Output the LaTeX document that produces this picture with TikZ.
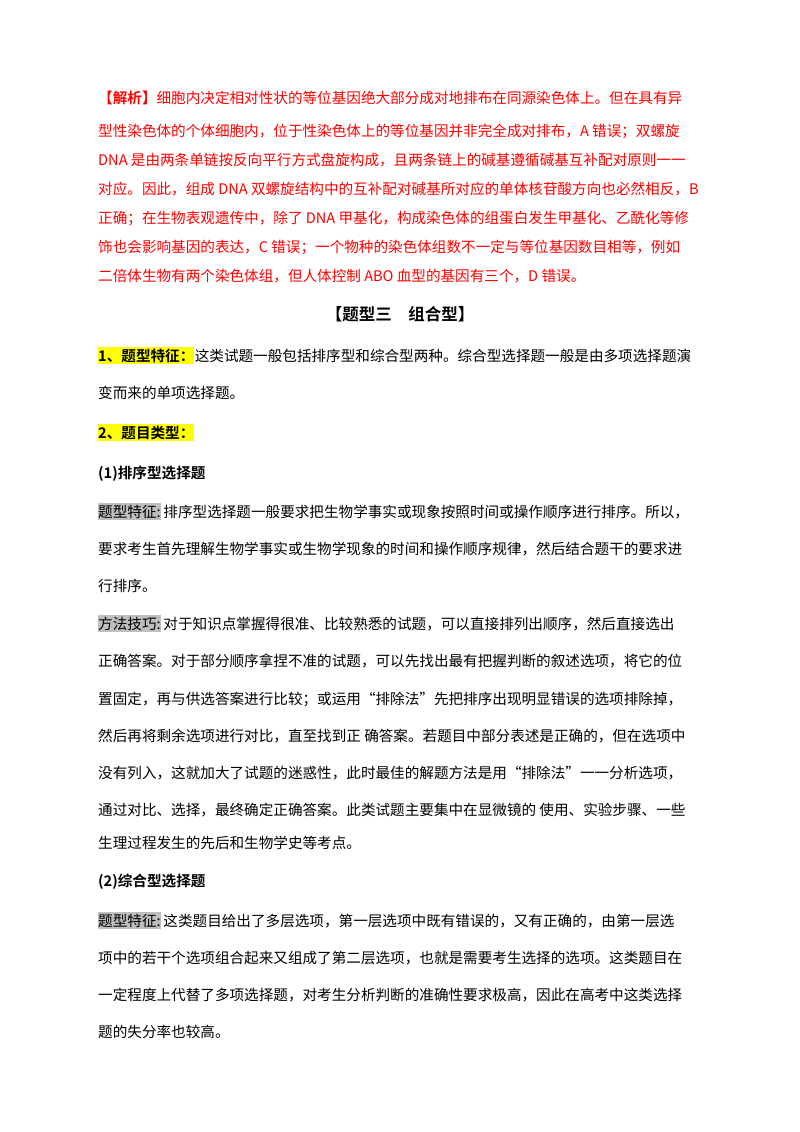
\documentclass[tikz,border=0pt]{standalone}
\usepackage{fontspec}
\setmainfont{Liberation Serif}
\newfontfamily\cjk{Noto Sans CJK SC}
\newfontfamily\cjkb{Noto Sans CJK SC Bold}
\definecolor{hlyellow}{RGB}{255,255,0}
\definecolor{hlgray}{RGB}{190,190,190}
\tikzset{
  txt/.style={anchor=base west,inner sep=0pt,font=\cjk\fontsize{14.6}{14.6}\selectfont},
  red/.style={txt,text=red},
  bold/.style={txt,font=\cjkb\fontsize{14.6}{14.6}\selectfont},
  hl/.style={fill=hlyellow,inner ysep=2pt},
  gy/.style={fill=hlgray,inner ysep=2pt}
}
\begin{document}
\begin{tikzpicture}[x=1pt,y=-1pt]
\useasboundingbox (0,0) rectangle (800,1132);
% answer analysis
\node[red] (r1) at (98,103) {{\cjkb 【解析】}细胞内决定相对性状的等位基因绝大部分成对地排布在同源染色体上。但在具有异};
\node[red] (r2) at (98,136) {型性染色体的个体细胞内，位于性染色体上的等位基因并非完全成对排布，A 错误；双螺旋};
\node[red] (r3) at (98,165) {DNA 是由两条单链按反向平行方式盘旋构成，且两条链上的碱基遵循碱基互补配对原则一一};
\node[red] (r4) at (98,194) {对应。因此，组成 DNA 双螺旋结构中的互补配对碱基所对应的单体核苷酸方向也必然相反，B};
\node[red] (r5) at (98,223) {正确；在生物表观遗传中，除了 DNA 甲基化，构成染色体的组蛋白发生甲基化、乙酰化等修};
\node[red] (r6) at (98,252) {饰也会影响基因的表达，C 错误；一个物种的染色体组数不一定与等位基因数目相等，例如};
\node[red] (r7) at (98,281) {二倍体生物有两个染色体组，但人体控制 ABO 血型的基因有三个，D 错误。};
% heading
\node[bold,anchor=base,font=\cjkb\fontsize{16.5}{16.5}\selectfont] (head) at (400,320) {【题型三\quad 组合型】};
% part 1
\node[bold,hl] (t1) at (98,361) {1、题型特征：};
\node[txt,anchor=base west] (t1a) at (t1.base east) {这类试题一般包括排序型和综合型两种。综合型选择题一般是由多项选择题演};
\node[txt] (t1b) at (98,398) {变而来的单项选择题。};
\node[bold,hl] (t2) at (98,438) {2、题目类型：};
\node[bold] (s1) at (98,478) {(1)排序型选择题};
\node[txt,gy] (f1) at (98,517) {题型特征:};
\node[txt,anchor=base west] (f1a) at (f1.base east) {\,排序型选择题一般要求把生物学事实或现象按照时间或操作顺序进行排序。所以，};
\node[txt] (f1b) at (98,554) {要求考生首先理解生物学事实或生物学现象的时间和操作顺序规律，然后结合题干的要求进};
\node[txt] (f1c) at (98,591) {行排序。};
\node[txt,gy] (m1) at (98,629) {方法技巧:};
\node[txt,anchor=base west] (m1a) at (m1.base east) {\,对于知识点掌握得很准、比较熟悉的试题，可以直接排列出顺序，然后直接选出};
\node[txt] (m1b) at (98,666) {正确答案。对于部分顺序拿捏不准的试题，可以先找出最有把握判断的叙述选项，将它的位};
\node[txt] (m1c) at (98,704) {置固定，再与供选答案进行比较；或运用“排除法”先把排序出现明显错误的选项排除掉，};
\node[txt] (m1d) at (98,741) {然后再将剩余选项进行对比，直至找到正\ 确答案。若题目中部分表述是正确的，但在选项中};
\node[txt] (m1e) at (98,778) {没有列入，这就加大了试题的迷惑性，此时最佳的解题方法是用“排除法”一一分析选项，};
\node[txt] (m1f) at (98,815) {通过对比、选择，最终确定正确答案。此类试题主要集中在显微镜的\ 使用、实验步骤、一些};
\node[txt] (m1g) at (98,848) {生理过程发生的先后和生物学史等考点。};
% part 2
\node[bold] (s2) at (98,886) {(2)综合型选择题};
\node[txt,gy] (f2) at (98,926) {题型特征:};
\node[txt,anchor=base west] (f2a) at (f2.base east) {\,这类题目给出了多层选项，第一层选项中既有错误的，又有正确的，由第一层选};
\node[txt] (f2b) at (98,963) {项中的若干个选项组合起来又组成了第二层选项，也就是需要考生选择的选项。这类题目在};
\node[txt] (f2c) at (98,1000) {一定程度上代替了多项选择题，对考生分析判断的准确性要求极高，因此在高考中这类选择};
\node[txt] (f2d) at (98,1037) {题的失分率也较高。};
\end{tikzpicture}
\end{document}
